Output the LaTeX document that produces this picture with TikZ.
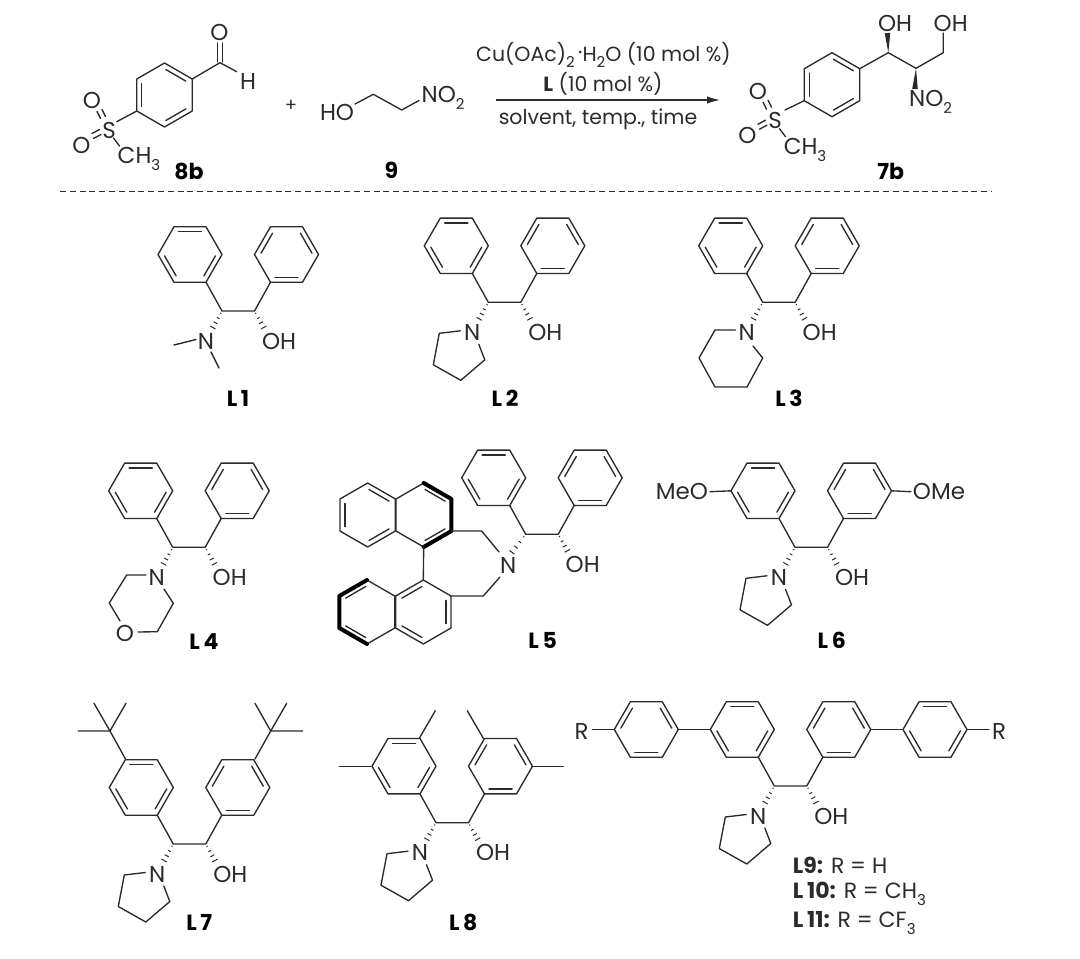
\documentclass[tikz,border=0pt]{standalone}
\usepackage{fontspec}
\setmainfont{Poppins}
\usepackage{tikz}
\usetikzlibrary{arrows.meta, calc}

\definecolor{inkc}{HTML}{2B2B2B}

% Subscript digits for the formulas
\newcommand{\subnum}[1]{\raisebox{-.3em}{\fontsize{15}{15}\selectfont #1}}

% Ring: centre, start angle, list of edges that carry an inner line
\newcommand{\ringat}[3]{%
  \begin{scope}[shift={#1}]
    \draw[bond] (#2:32) -- (#2+60:32) -- (#2+120:32) -- (#2+180:32) -- (#2+240:32) -- (#2+300:32) -- cycle;
    \foreach \k in {#3} {
      \draw[bond] (#2+60*\k+3:25.5) -- (#2+60*\k+57:25.5);
    }
  \end{scope}}

% Hashed bond between two named points
\newcommand{\hashbond}[2]{%
  \foreach \t/\w in {0.12/0.6, 0.37/1.4, 0.62/2.2, 0.87/3} {
    \draw[hash] ($(#1)!\t!(#2)!\w pt!90:(#2)$) -- ($(#1)!\t!(#2)!\w pt!-90:(#2)$);
  }}

% Solid wedge, thin end first
\newcommand{\wedgebond}[2]{%
  \fill[inkc] (#1) -- ($(#2)!2.8pt!90:(#1)$) -- ($(#2)!2.8pt!-90:(#1)$) -- cycle;}

% The aryl-CH-CH-aryl core with its OH
\newcommand{\core}[3]{%
  \coordinate (#1a) at (#2,#3);
  \coordinate (#1b) at (#2+32.5,#3);
  \coordinate (#1p) at (#2-32,#3-56.5);
  \coordinate (#1q) at (#2+64.5,#3-56.5);
  \coordinate (#1h) at (#2+43,#3+19);
  \ringat{(#1p)}{0}{0,2,4}
  \ringat{(#1q)}{0}{1,3,5}
  \draw[bond] ($(#1p)+(16,27.7)$) -- (#1a) -- (#1b) -- ($(#1q)+(-16,27.7)$);
  \hashbond{#1b}{#1h}
  \node[atom] (#1oh) at (#2+57,#3+30) {OH};}

% N of the amine, hashed from the core
\newcommand{\amine}[1]{%
  \node[atom] (#1n) at ($(#1a)+(-16,30)$) {N};
  \coordinate (#1g) at ($(#1a)+(-10.5,19)$);
  \hashbond{#1a}{#1g}}

% Pyrrolidine hanging on a named N
\newcommand{\pyrro}[1]{%
  \draw[bond] ($(#1)+(-12,-1.5)$) -- ($(#1)+(-33,1)$) -- ($(#1)+(-39,32.5)$) -- ($(#1)+(-11.5,48)$) -- ($(#1)+(12.5,27.5)$) -- ($(#1)+(6.5,12)$);}

% Methyl sulfone hanging on a named S
\newcommand{\sulfone}[1]{%
  \node[atom] (#1o) at ($(#1)+(-17,-29.5)$) {O};
  \node[atom] (#1p) at ($(#1)+(-27.5,15)$) {O};
  \node[atom] (#1m) at ($(#1)+(30,29)$) {CH\subnum{3}};
  \draw[bond] ($(#1)+(-3.5,-13.5)$) -- ($(#1)+(-7,-20.5)$);
  \draw[bond] ($(#1)+(-8.5,-11.5)$) -- ($(#1)+(-12,-18.5)$);
  \draw[bond] ($(#1)+(-9.5,-0.5)$) -- ($(#1)+(-17,3.5)$);
  \draw[bond] ($(#1)+(-8,4.5)$) -- ($(#1)+(-15.5,8.5)$);
  \draw[bond] ($(#1)+(4.5,8)$) -- ($(#1)+(10.5,16)$);}

\begin{document}
\begin{tikzpicture}[
  x=1pt,
  y=-1pt,
  bond/.style={draw=inkc, line width=1.35pt, line join=round, line cap=round},
  bold bond/.style={draw=black, line width=4pt, line join=round, line cap=round},
  hash/.style={draw=inkc, line width=1pt},
  atom/.style={inner sep=0pt, text=inkc, font=\fontsize{23}{26}\selectfont},
  cond/.style={inner sep=0pt, text=inkc, font=\fontsize{20.5}{24}\selectfont},
  tag/.style={inner sep=0pt, text=black, font=\fontsize{22}{26}\selectfont\bfseries},
  case/.style={inner sep=0pt, anchor=west, text=inkc, font=\fontsize{22}{26}\selectfont}
]
\useasboundingbox (0,0) rectangle (1080,959);

% Reaction: aldehyde 8b
\coordinate (ra) at (164.5,95);
\ringat{(ra)}{30}{0,2,4}
\node[atom] (rs) at (109,130) {S};
\sulfone{rs}
\coordinate (rc) at (220,62.7);
\node[atom] (ro) at (219.5,32.5) {O};
\node[atom] (rh) at (248,81) {H};
\draw[bond] (116.7,121.7) -- ($(ra)+(150:32)$);
\draw[bond] ($(ra)+(-30:32)$) -- (rc) -- (236.7,71.7);
\draw[bond] (217.5,62) -- (217.5,43);
\draw[bond] (222.5,62) -- (222.5,43);
\node[tag] (r8b) at (189,171) {8b};
\node[atom, font=\fontsize{18}{20}\selectfont] (rplus) at (291,106) {+};

% Reaction: nitroethanol 9
\node[atom] (aho) at (337,112) {HO};
\node[atom, anchor=west] (ano) at (421.5,98) {NO\subnum{2}};
\draw[bond] (355,104) -- (373.3,94.3) -- (401.7,110) -- (419,100.5);
\node[tag] (r9) at (391.5,170) {9};

% Reaction: arrow and conditions
\coordinate (arrowa) at (496,100);
\coordinate (arrowb) at (720,100);
\draw[bond, -{Latex[length=13pt, width=7.5pt]}, line cap=butt] (arrowa) -- (arrowb);
\node[cond] (cond1) at (603.5,55) {Cu(OAc)\subnum{2}\raisebox{.1em}{\,·}H\subnum{2}O (10 mol \%)};
\node[cond] (cond2) at (603,84) {\textbf{L} (10 mol \%)};
\node[cond] (cond3) at (598,119) {solvent, temp., time};

% Reaction: product 7b
\coordinate (pa) at (832,84.7);
\ringat{(pa)}{30}{0,2,4}
\node[atom] (ps) at (775,120.7) {S};
\sulfone{ps}
\coordinate (pb) at (888.3,52.7);
\coordinate (pc) at (916,68.3);
\coordinate (pd) at (943.3,52.7);
\node[atom] (poh) at (895,23) {OH};
\node[atom] (pog) at (950.7,23) {OH};
\node[atom, anchor=west] (pno) at (909,102) {NO\subnum{2}};
\draw[bond] (785,110) -- ($(pa)+(150:32)$);
\draw[bond] ($(pa)+(-30:32)$) -- (pb) -- (pc) -- (pd) -- (943.3,33);
\coordinate (pe) at (887.5,33);
\coordinate (pf) at (915,89);
\wedgebond{pb}{pe}
\wedgebond{pc}{pf}
\node[tag] (r7b) at (890.7,171) {7b};

% Dashed separator
\coordinate (sepa) at (60,191.7);
\coordinate (sepb) at (992,191.7);
\draw[draw=inkc, line width=1.1pt, dash pattern=on 6pt off 3.8pt] (sepa) -- (sepb);

% L1
\core{la}{222}{311}
\amine{la}
\coordinate (lax) at (174,345);
\coordinate (lay) at (219,368);
\draw[bond] (196,339.5) -- (lax);
\draw[bond] (211,352) -- (lay);
\node[tag] (tla) at (238,398) {L\,1};

% L2
\core{lb}{488.3}{302.3}
\amine{lb}
\pyrro{lbn}
\node[tag] (tlb) at (505,398) {L\,2};

% L3
\core{lc}{762.7}{302.3}
\amine{lc}
\draw[bond] (735.5,330) -- (715,330) -- (699,358) -- (715,387) -- (747,387) -- (762.7,358) -- (753,346);
\node[tag] (tlc) at (789,398) {L\,3};

% L4
\core{ld}{172.7}{547.3}
\amine{ld}
\node[atom] (ldo) at (125,633) {O};
\draw[bond] (146,575) -- (126.7,575) -- (109.3,603) -- (120,621);
\draw[bond] (138,632) -- (157.3,631.7) -- (173.3,603.3) -- (164,589);
\node[tag] (tld) at (204,642) {L\,4};

% L5: binaphthyl
\core{le}{525.7}{534.3}
\node[atom] (len) at (508.3,565) {N};
\coordinate (leg) at (510,555);
\hashbond{lea}{leg}
\coordinate (um) at (367.7,515);
\coordinate (un) at (423.7,515);
\coordinate (wm) at (367,612);
\coordinate (wn) at (423.3,612);
\ringat{(um)}{30}{0,2,4}
\ringat{(un)}{30}{0,4}
\ringat{(wm)}{30}{1,3}
\ringat{(wn)}{30}{1,3,5}
\draw[bold bond] ($(un)+(270:32)$) -- ($(un)+(330:32)$) -- ($(un)+(30:32)$) -- ($(un)+(90:32)$);
\draw[bold bond] ($(wm)+(270:32)$) -- ($(wm)+(210:32)$) -- ($(wm)+(150:32)$) -- ($(wm)+(90:32)$);
\draw[bond] ($(un)+(90:32)$) -- ($(wn)+(270:32)$);
\draw[bond] ($(un)+(30:32)$) -- (481.7,531) -- (499,552);
\draw[bond] ($(wn)+(330:32)$) -- (483.3,596) -- (500,577);
\node[tag] (tle) at (542.7,640) {L\,5};

% L6
\core{lf}{795}{547.3}
\amine{lf}
\pyrro{lfn}
\node[atom] (lfl) at (682,491.7) {MeO};
\node[atom] (lfr) at (939,491.7) {OMe};
\draw[bond] (710,491.7) -- ($(lfp)+(180:32)$);
\draw[bond] ($(lfq)+(0:32)$) -- (911,491.7);
\node[tag] (tlf) at (831.7,640) {L\,6};

% L7
\core{lg}{173.3}{844}
\amine{lg}
\pyrro{lgn}
\draw[bond] (125.5,759) -- (110,731) -- (94,703.3);
\draw[bond] (126,703.3) -- (110,731) -- (78,731);
\draw[bond] (255,759) -- (270.7,731) -- (255,703.3);
\draw[bond] (286.7,703.3) -- (270.7,731) -- (302.7,731);
\node[tag] (tlg) at (199.3,922) {L\,7};

% L8
\core{lh}{436}{822.7}
\amine{lh}
\pyrro{lhn}
\draw[bond] (419.3,738.3) -- (435.3,710.7);
\draw[bond] (371,766.2) -- (339.3,766.2);
\draw[bond] (483.3,738.3) -- (467.3,710.7);
\draw[bond] (531.7,766.2) -- (563.3,766.2);
\node[tag] (tlh) at (463.3,922) {L\,8};

% L9, L10, L11
\core{li}{774.3}{786}
\amine{li}
\pyrro{lin}
\coordinate (lio) at (646.3,729.5);
\coordinate (liz) at (935,729.5);
\ringat{(lio)}{0}{1,3,5}
\ringat{(liz)}{0}{0,2,4}
\draw[bond] ($(lio)+(0:32)$) -- ($(lip)+(180:32)$);
\draw[bond] ($(liq)+(0:32)$) -- ($(liz)+(180:32)$);
\node[atom] (lil) at (581.7,731.5) {R};
\node[atom] (lir) at (999,731.5) {R};
\draw[bond] (592.5,729.5) -- ($(lio)+(180:32)$);
\draw[bond] ($(liz)+(0:32)$) -- (989,729.5);
\node[case] (tli) at (792.7,865) {\textbf{L9:} R = H};
\node[case] (tlj) at (792.7,894) {\textbf{L\,10:} R = CH\subnum{3}};
\node[case] (tlk) at (792.7,923) {\textbf{L\,11:} R = CF\subnum{3}};

\end{tikzpicture}
\end{document}
